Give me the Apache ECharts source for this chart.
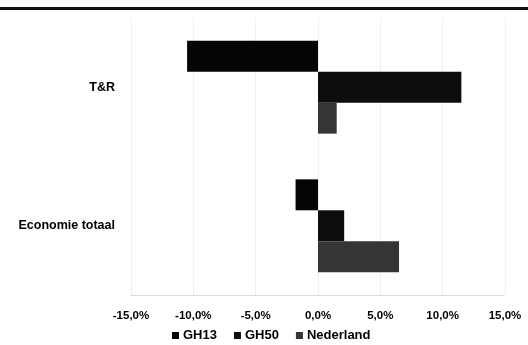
<!DOCTYPE html>
<html>
<head>
<meta charset="utf-8">
<script src="https://cdn.jsdelivr.net/npm/echarts@6/dist/echarts.min.js"></script>
<style>
  html, body { margin: 0; padding: 0; background: #fff; }
  #chart { width: 528px; height: 345px; }
</style>
</head>
<body>
<div id="chart"></div>
<script>
// categories top to bottom
const categories = ['T&R', 'Economie totaal']
const seriesNames = ['GH13', 'GH50', 'Nederland']
// values in percent
const gh13 = [-10.5, -1.8]
const gh50 = [11.5, 2.1]
const nederland = [1.5, 6.5]
const colors = ['#050505', '#0d0d0d', '#353535']

const chart = echarts.init(document.getElementById('chart'))
const font = 'Liberation Sans, Arial, sans-serif'

const option = {
  backgroundColor: '#fff',
  animation: false,
  textStyle: { fontFamily: font },
  graphic: [{
    type: 'rect',
    shape: { x: 0, y: 7, width: 528, height: 3 },
    style: { fill: '#111' }
  }],
  legend: {
    bottom: 3,
    left: 172,
    padding: 0,
    itemWidth: 7,
    itemHeight: 7,
    itemGap: 17,
    icon: 'rect',
    data: seriesNames,
    textStyle: { fontSize: 13, fontWeight: 'bold', color: '#000', fontFamily: font, padding: [0, 0, 0, -1] }
  },
  grid: {
    left: 131,
    right: 23,
    top: 18,
    bottom: 50
  },
  xAxis: {
    type: 'value',
    min: -15,
    max: 15,
    interval: 5,
    axisLine: { show: true, lineStyle: { color: '#d4d4d4', type: 'dotted' } },
    axisTick: { show: false },
    splitLine: { show: true, lineStyle: { color: '#e2e2e2', type: 'dotted' } },
    axisLabel: {
      color: '#000',
      fontSize: 11.5,
      fontWeight: 'bold',
      margin: 15,
      formatter: v => v.toFixed(1).replace('.', ',') + '%'
    }
  },
  yAxis: {
    type: 'category',
    inverse: true,
    data: categories,
    axisLine: { show: false },
    axisTick: { show: false },
    axisLabel: { color: '#000', fontSize: 12.5, fontWeight: 'bold', margin: 16 }
  },
  series: [
    { name: 'GH13', type: 'bar', data: gh13, barGap: '0%', barCategoryGap: '33%', itemStyle: { color: colors[0] } },
    { name: 'GH50', type: 'bar', data: gh50, barGap: '0%', barCategoryGap: '33%', itemStyle: { color: colors[1] } },
    { name: 'Nederland', type: 'bar', data: nederland, barGap: '0%', barCategoryGap: '33%', itemStyle: { color: colors[2] } }
  ]
}
chart.setOption(option)
</script>
</body>
</html>
